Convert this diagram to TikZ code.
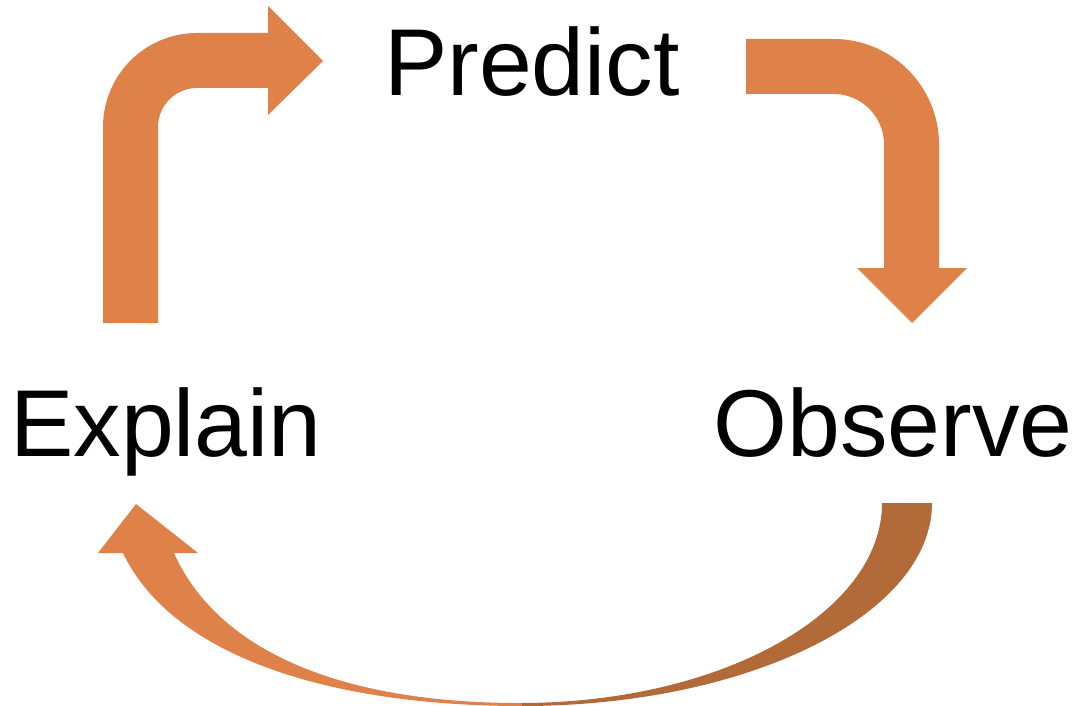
\documentclass[tikz,border=0pt]{standalone}
\usepackage{fontspec}
\setmainfont{Liberation Sans}
\definecolor{orng}{HTML}{DF8249}
\definecolor{brwn}{HTML}{B16A38}
\begin{document}
\begin{tikzpicture}[x=1pt, y=-1pt, every node/.style={inner sep=0pt, anchor=base, font=\fontsize{95pt}{110pt}\selectfont}, shaft/.style={draw=orng, line width=55pt}, head/.style={fill=orng}]
            \useasboundingbox (0,0) rectangle (1078,706);
            \node (pred) at (532,96) {Predict};
            \node (expl) at (166,456) {Explain};
            \node (obs) at (893,456) {Observe};
            
            % explain to predict
            \coordinate (e1) at (130.5,323);
            \coordinate (p1) at (269,60.5);
            \draw[shaft, rounded corners=66.5pt] (e1) -- (e1 |- p1) -- (p1);
            \fill[head] (268,6) -- (323,61) -- (268,115) -- cycle;
            
            % predict to observe
            \coordinate (p2) at (746,66.5);
            \coordinate (o1) at (911.5,269);
            \draw[shaft, rounded corners=78pt] (p2) -- (p2 -| o1) -- (o1);
            \fill[head] (857,268) -- (967,268) -- (912,323) -- cycle;
            
            % observe back to explain
            \fill[brwn] (932,503) .. controls (932,615) and (748,706) .. (522,706) -- (520,703) .. controls (721,703) and (882,613) .. (882,503) -- cycle;
            \fill[orng] (522,706) .. controls (320,706) and (170,652) .. (123,553) -- (98,553) -- (136,504) -- (198,553) -- (174,553) .. controls (215,645) and (330,703) .. (520,703) -- cycle;
            \end{tikzpicture}
\end{document}
